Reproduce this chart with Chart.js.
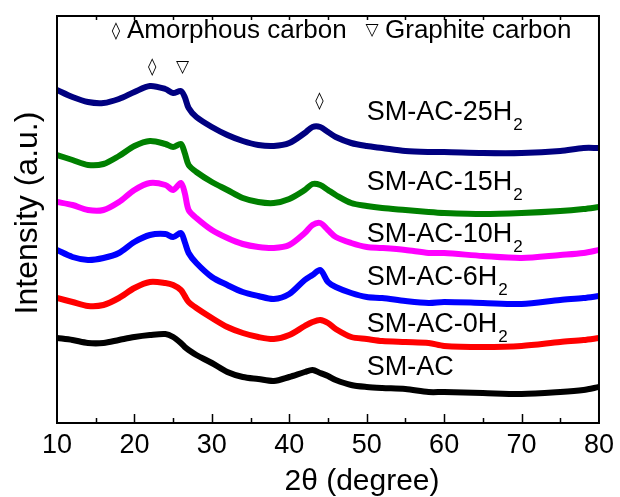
<!DOCTYPE html>
<html>
<head>
<meta charset="utf-8">
<script src="https://cdn.jsdelivr.net/npm/chart.js@4.4.1/dist/chart.umd.min.js"></script>
<style>
  html, body { margin: 0; padding: 0; background: #fff; }
  #wrap { width: 620px; height: 497px; }
</style>
</head>
<body>
<div id="wrap"><canvas id="xrd" width="620" height="497"></canvas></div>
<script>
const twoTheta = [10, 12, 14, 16, 18, 20, 22, 24, 25, 26, 26.5, 27, 28, 30, 32, 34, 36, 38, 40,
  42, 43, 44, 45, 46, 48, 50, 52, 55, 58, 60, 65, 70, 75, 78, 80];

// intensity (a.u., offset stacked) for each sample
const ac25 = [333, 326, 321, 320, 324, 331, 337, 334, 330, 332, 326, 315, 306, 296, 288, 282, 278, 277, 280,
  290, 296, 296, 291, 286, 280, 277, 275, 272, 271, 271, 270, 270, 272, 275, 275];
const ac15 = [268, 263, 258, 259, 267, 277, 282, 279, 276, 279, 270, 258, 251, 241, 233, 225, 221, 220, 224,
  233, 239, 238, 233, 228, 220, 217, 215, 213, 211, 210, 209, 210, 212, 214, 216];
const ac10 = [221, 218, 213, 213, 221, 233, 240, 238, 233, 240, 230, 213, 205, 193, 185, 179, 176, 175, 178,
  190, 198, 200, 193, 186, 180, 176, 175, 173, 170, 170, 167, 165, 168, 170, 173];
const ac6 = [173, 166, 163, 165, 170, 181, 188, 189, 186, 190, 181, 170, 160, 146, 138, 131, 127, 124, 129,
  143, 148, 153, 141, 136, 130, 126, 125, 122, 120, 121, 120, 119, 123, 125, 127];
const ac0 = [125, 121, 117, 118, 125, 135, 141, 140, 138, 133, 127, 121, 115, 105, 96, 90, 86, 84, 88,
  97, 101, 103, 100, 94, 86, 84, 82, 81, 80, 77, 76, 77, 81, 83, 85];
const acRaw = [85, 83, 80, 80, 83, 86, 88, 89, 86, 80, 76, 73, 68, 60, 51, 46, 44, 42, 46,
  51, 53, 50, 47, 43, 38, 36, 35, 34, 31, 31, 30, 29, 31, 33, 36];

const seriesNames = ["SM-AC-25H", "SM-AC-15H", "SM-AC-10H", "SM-AC-6H", "SM-AC-0H", "SM-AC"];
const seriesSub = ["2", "2", "2", "2", "2", ""];
const seriesColors = ["#000080", "#008000", "#ff00ff", "#0000ff", "#ff0000", "#000000"];
const seriesValues = [ac25, ac15, ac10, ac6, ac0, acRaw];

// where the sample names sit (2θ, intensity)
const nameX = 50;
const nameY = [310, 240, 188, 145, 98, 55];

// peak symbols: ◊ amorphous, ▽ graphite
const peakMarks = [
  { x: 22.3, y: 355, sym: "\u25CA" },
  { x: 26.2, y: 355, sym: "\u25BD" },
  { x: 43.9, y: 321, sym: "\u25CA" }
];

const xTicks = [10, 20, 30, 40, 50, 60, 70, 80];

const FONT = "'Liberation Sans', Arial, sans-serif";

const frame = {
  id: "frame",
  afterDraw(chart) {
    const { ctx, chartArea: a, scales } = chart;
    const xs = scales.x, ys = scales.y;
    ctx.save();
    ctx.strokeStyle = "#000";
    ctx.lineWidth = 2;
    ctx.strokeRect(a.left, a.top, a.right - a.left, a.bottom - a.top);
    ctx.lineWidth = 1.5;
    for (let v = 15; v < 80; v += 5) {
      const px = Math.round(xs.getPixelForValue(v)) + 0.5;
      const len = v % 10 === 0 ? 9 : 5;
      ctx.beginPath();
      ctx.moveTo(px, a.bottom);
      ctx.lineTo(px, a.bottom - len);
      ctx.moveTo(px, a.top);
      ctx.lineTo(px, a.top + 4);
      ctx.stroke();
    }

    ctx.fillStyle = "#000";
    ctx.textBaseline = "middle";

    // axis titles
    ctx.textAlign = "center";
    ctx.font = "30px " + FONT;
    ctx.fillText("2\u03B8 (degree)", 362, 482);
    ctx.save();
    ctx.translate(28, 213);
    ctx.rotate(-Math.PI / 2);
    ctx.font = "32px " + FONT;
    ctx.fillText("Intensity (a.u.)", 0, 0);
    ctx.restore();

    // top legend line
    ctx.font = "17px 'DejaVu Sans'";
    ctx.fillText("\u25CA", 116, 32);
    ctx.fillText("\u25BD", 372, 31);
    ctx.textAlign = "left";
    ctx.font = "26px " + FONT;
    ctx.fillText("Amorphous carbon", 127, 31);
    ctx.fillText("Graphite carbon", 385, 31);

    // peak markers
    ctx.font = "17px 'DejaVu Sans'";
    ctx.textAlign = "center";
    peakMarks.forEach(m => {
      ctx.fillText(m.sym, xs.getPixelForValue(m.x), ys.getPixelForValue(m.y));
    });

    // sample names with subscript
    ctx.textAlign = "left";
    seriesNames.forEach((name, i) => {
      const px = xs.getPixelForValue(nameX);
      const py = ys.getPixelForValue(nameY[i]);
      ctx.font = "27px " + FONT;
      ctx.fillText(name, px, py);
      if (seriesSub[i]) {
        const w = ctx.measureText(name).width;
        ctx.font = "17px " + FONT;
        ctx.fillText(seriesSub[i], px + w + 1, py + 12);
      }
    });
    ctx.restore();
  }
};

new Chart(document.getElementById("xrd"), {
  type: "line",
  data: {
    datasets: seriesValues.map((vals, i) => ({
      label: seriesNames[i] + seriesSub[i],
      data: twoTheta.map((t, j) => ({ x: t, y: vals[j] })),
      borderColor: seriesColors[i],
      borderWidth: 6,
      pointRadius: 0,
      tension: 0.3,
      fill: false
    }))
  },
  options: {
    responsive: false,
    animation: false,
    layout: { padding: { top: 16, right: 19, left: 0, bottom: 0 } },
    plugins: { legend: { display: false }, tooltip: { enabled: false } },
    scales: {
      x: {
        type: "linear",
        min: 10,
        max: 80,
        afterFit: s => { s.height = 74; },
        afterBuildTicks: s => { s.ticks = xTicks.map(v => ({ value: v })); },
        grid: { display: false, drawTicks: false },
        border: { display: false },
        ticks: { color: "#000", padding: 6, font: { family: FONT, size: 27 } }
      },
      y: {
        min: 0,
        max: 407,
        afterFit: s => { s.width = 57; },
        grid: { display: false, drawTicks: false },
        border: { display: false },
        ticks: { display: false }
      }
    }
  },
  plugins: [frame]
});
</script>
</body>
</html>
